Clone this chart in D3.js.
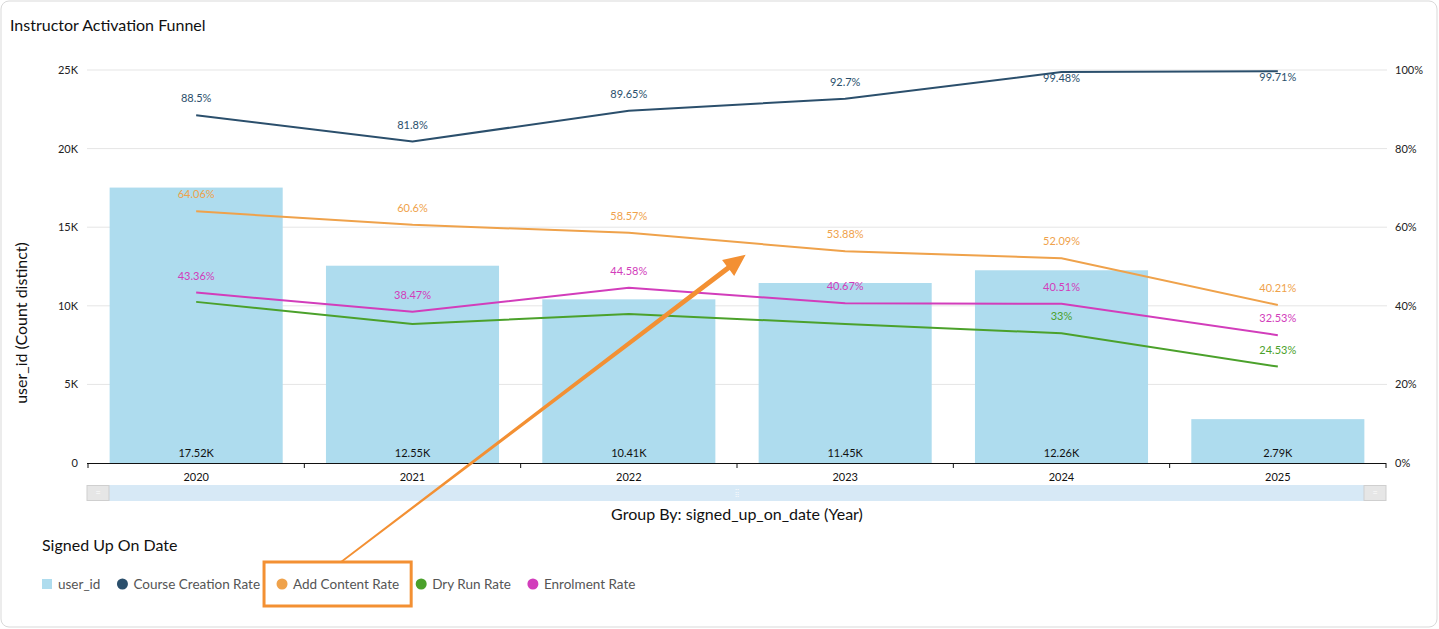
<!DOCTYPE html>
<html>
<head>
<script src="https://d3js.org/d3.v7.min.js"></script>
<style>
  body { margin: 0; background: #fff; font-family: Lato, "Noto Sans", sans-serif; }
  text { font-family: Lato, "Noto Sans", sans-serif; }
</style>
</head>
<body>
<div class="chart"></div>
<script>
  var years = ["2020", "2021", "2022", "2023", "2024", "2025"];
  var userIds = [17520, 12550, 10410, 11450, 12260, 2790];
  var courseCreation = [88.5, 81.8, 89.65, 92.7, 99.48, 99.71];
  var addContent = [64.06, 60.6, 58.57, 53.88, 52.09, 40.21];
  var dryRun = [41.0, 35.4, 37.9, 35.4, 33, 24.53];
  var enrolment = [43.36, 38.47, 44.58, 40.67, 40.51, 32.53];
  // which point labels the original shows (the rest were hidden for overlap)
  var dryRunShown = [false, false, false, false, true, true];
  var leftTicks = [0, 5000, 10000, 15000, 20000, 25000];
  var rightTicks = [0, 20, 40, 60, 80, 100];

  var w = 1439, h = 629;
  var pLeft = 88, pRight = 1386, pTop = 70, pBottom = 463;

  var svg = d3.select(".chart").append("svg")
    .attr("width", w).attr("height", h);

  // card
  svg.append("rect")
    .attr("x", 1).attr("y", 1).attr("width", w - 3).attr("height", h - 3)
    .attr("rx", 8).attr("fill", "#fff").attr("stroke", "#d9d9d9");

  svg.append("text").attr("x", 10).attr("y", 31)
    .attr("font-size", 16).attr("fill", "#111")
    .text("Instructor Activation Funnel");

  var x = d3.scaleBand().domain(years).range([pLeft, pRight]).paddingInner(0.2).paddingOuter(0.1);
  var xTicks = d3.scaleBand().domain(years).range([pLeft, pRight]);
  var y = d3.scaleLinear().domain([0, 25000]).range([pBottom, pTop]);
  var yR = d3.scaleLinear().domain([0, 100]).range([pBottom, pTop]);

  // gridlines
  svg.append("g").selectAll("line").data(leftTicks.slice(1)).enter().append("line")
    .attr("x1", pLeft - 1).attr("x2", pRight + 1)
    .attr("y1", function(d) { return y(d); }).attr("y2", function(d) { return y(d); })
    .attr("stroke", "#e5e5e5").attr("stroke-width", 1);

  // left tick labels
  svg.append("g").selectAll("text").data(leftTicks).enter().append("text")
    .attr("x", 78).attr("y", function(d) { return y(d) + 4; })
    .attr("text-anchor", "end").attr("font-size", 11).attr("fill", "#222")
    .text(function(d) { return d === 0 ? "0" : (d / 1000) + "K"; });

  // right tick labels
  svg.append("g").selectAll("text").data(rightTicks).enter().append("text")
    .attr("x", 1395).attr("y", function(d) { return yR(d) + 4; })
    .attr("font-size", 11).attr("fill", "#222")
    .text(function(d) { return d + "%"; });

  // y axis title
  svg.append("text")
    .attr("transform", "translate(27,323) rotate(-90)")
    .attr("text-anchor", "middle").attr("font-size", 16).attr("fill", "#111")
    .text("user_id (Count distinct)");

  // bars
  svg.append("g").selectAll("rect").data(userIds).enter().append("rect")
    .attr("x", function(d, i) { return x(years[i]); })
    .attr("width", x.bandwidth())
    .attr("y", function(d) { return y(d); })
    .attr("height", function(d) { return pBottom - y(d); })
    .attr("fill", "#aedcee");

  svg.append("g").selectAll("text").data(userIds).enter().append("text")
    .attr("x", function(d, i) { return x(years[i]) + x.bandwidth() / 2; })
    .attr("y", pBottom - 6)
    .attr("text-anchor", "middle").attr("font-size", 11).attr("fill", "#111")
    .text(function(d) { return (d / 1000).toFixed(2).replace(/0$/, "") + "K"; });

  // x axis
  svg.append("line").attr("x1", pLeft - 1).attr("x2", pRight).attr("y1", pBottom + 0.5).attr("y2", pBottom + 0.5)
    .attr("stroke", "#111").attr("stroke-width", 1.2);
  var bounds = years.map(function(d) { return xTicks(d); }).concat([pRight]);
  svg.append("g").selectAll("line").data(bounds).enter().append("line")
    .attr("x1", function(d) { return d; }).attr("x2", function(d) { return d; })
    .attr("y1", pBottom).attr("y2", pBottom + 5)
    .attr("stroke", "#111");
  svg.append("g").selectAll("text").data(years).enter().append("text")
    .attr("x", function(d) { return xTicks(d) + xTicks.bandwidth() / 2; })
    .attr("y", 481).attr("text-anchor", "middle").attr("font-size", 11).attr("fill", "#111")
    .text(function(d) { return d; });

  // lines
  var series = [
    { name: "Course Creation Rate", values: courseCreation, color: "#2b4f6c" },
    { name: "Add Content Rate", values: addContent, color: "#efa24b" },
    { name: "Dry Run Rate", values: dryRun, color: "#4ba12b", shown: dryRunShown },
    { name: "Enrolment Rate", values: enrolment, color: "#d23dbb" }
  ];
  var cx = function(i) { return x(years[i]) + x.bandwidth() / 2; };
  var line = d3.line().x(function(d, i) { return cx(i); }).y(function(d) { return yR(d); });

  series.forEach(function(s) {
    svg.append("path").datum(s.values).attr("d", line)
      .attr("fill", "none").attr("stroke", s.color).attr("stroke-width", 2);
  });
  series.forEach(function(s) {
    var pts = s.values.map(function(v, i) { return { v: v, i: i }; })
      .filter(function(p) { return !s.shown || s.shown[p.i]; });
    svg.append("g").selectAll("text").data(pts).enter().append("text")
      .attr("x", function(p) { return cx(p.i); })
      .attr("y", function(p) {
        var py = yR(p.v);
        return py - 20 < pTop ? py + 10 : py - 13;
      })
      .attr("text-anchor", "middle").attr("font-size", 11).attr("fill", s.color)
      .text(function(p) { return p.v + "%"; });
  });

  // scroll bar
  svg.append("rect").attr("x", pLeft - 1).attr("y", 485).attr("width", pRight - pLeft + 1).attr("height", 16)
    .attr("fill", "#d7e9f6");
  [pLeft - 1, pRight - 22].forEach(function(hx) {
    svg.append("rect").attr("x", hx).attr("y", 485.5).attr("width", 22).attr("height", 15)
      .attr("fill", "#e6e6e6").attr("stroke", "#cfcfcf");
    svg.append("text").attr("x", hx + 11).attr("y", 496).attr("text-anchor", "middle")
      .attr("font-size", 9).attr("fill", "#fff").text("=");
  });
  svg.append("text").attr("x", (pLeft + pRight) / 2).attr("y", 496).attr("text-anchor", "middle")
    .attr("font-size", 8).attr("fill", "#fff").text("⁞⁞");

  svg.append("text").attr("x", (pLeft + pRight) / 2).attr("y", 520).attr("text-anchor", "middle")
    .attr("font-size", 16).attr("fill", "#111")
    .text("Group By: signed_up_on_date (Year)");

  // legend
  svg.append("text").attr("x", 42).attr("y", 551).attr("font-size", 16).attr("fill", "#111")
    .text("Signed Up On Date");

  var legendItems = [{ name: "user_id", color: "#aedcee", square: true }].concat(series);
  var lx = 42, boxItem = null;
  legendItems.forEach(function(it) {
    var g = svg.append("g");
    if (it.square) {
      g.append("rect").attr("x", lx).attr("y", 579).attr("width", 10).attr("height", 10).attr("fill", it.color);
    } else {
      g.append("circle").attr("cx", lx + 5).attr("cy", 584).attr("r", 5.5).attr("fill", it.color);
    }
    var t = g.append("text").attr("x", lx + 16).attr("y", 588.5).attr("font-size", 13.5).attr("fill", "#555")
      .text(it.name);
    var tw = t.node().getComputedTextLength();
    if (it.name === "Add Content Rate") boxItem = { x0: lx, x1: lx + 16 + tw };
    lx = lx + 16 + tw + 17;
  });

  // annotation
  var orange = "#f39033";
  var bx0 = boxItem.x0 - 13, bx1 = boxItem.x1 + 12;
  svg.append("rect").attr("x", bx0).attr("y", 562).attr("width", bx1 - bx0).attr("height", 44)
    .attr("fill", "none").attr("stroke", orange).attr("stroke-width", 3);

  var start = [bx0 + 77, 562];
  var tip = [cx(2) + 0.54 * xTicks.bandwidth(), yR(53)];
  var ang = Math.atan2(tip[1] - start[1], tip[0] - start[0]);
  var ux = Math.cos(ang), uy = Math.sin(ang), nx = -uy, ny = ux;
  var headLen = 22, headW = 10;
  var base = [tip[0] - ux * headLen, tip[1] - uy * headLen];
  var arrow = [
    [start[0] + nx * 0.8, start[1] + ny * 0.8],
    [base[0] + nx * 2.6, base[1] + ny * 2.6],
    [base[0] + nx * headW, base[1] + ny * headW],
    tip,
    [base[0] - nx * headW, base[1] - ny * headW],
    [base[0] - nx * 2.6, base[1] - ny * 2.6],
    [start[0] - nx * 0.8, start[1] - ny * 0.8]
  ];
  svg.append("path").attr("d", "M" + arrow.map(function(p) { return p.join(","); }).join("L") + "Z")
    .attr("fill", orange);
</script>
</body>
</html>
